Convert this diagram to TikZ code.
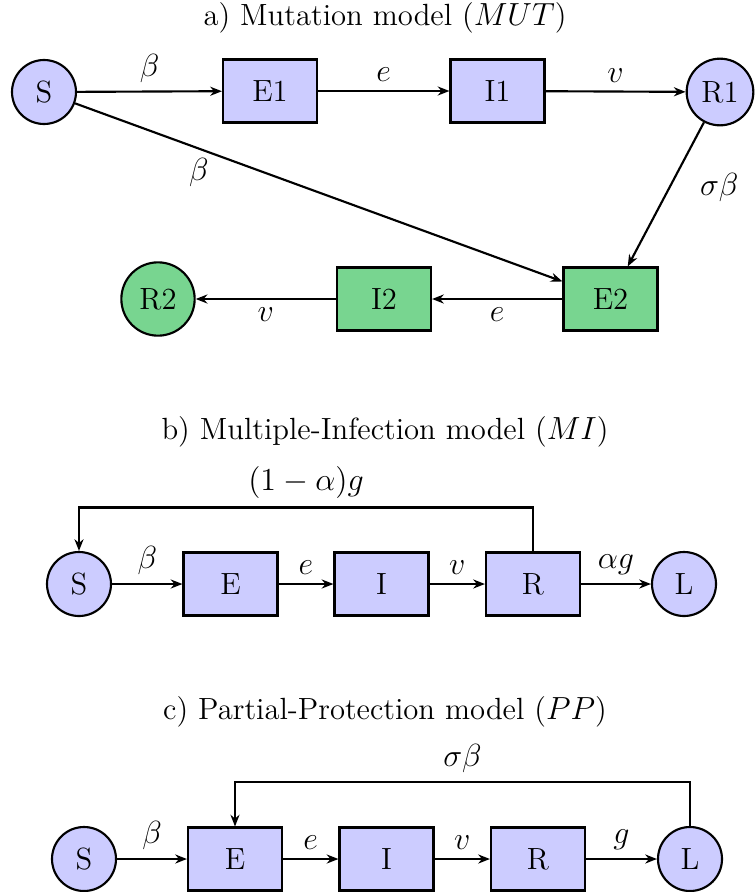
\documentclass[tikz,border=0pt]{standalone}
\usetikzlibrary{arrows.meta}
\definecolor{lav}{RGB}{204,204,255}
\definecolor{grn}{RGB}{120,213,144}
\begin{document}
\begin{tikzpicture}[x=0.375pt,y=-0.375pt,
  every node/.style={font=\fontsize{11.5}{14}\selectfont},
  circ/.style={circle,draw,line width=0.8pt,minimum size=24pt,inner sep=0pt},
  boxn/.style={rectangle,draw,line width=0.8pt,minimum width=35.25pt,minimum height=23.6pt,inner sep=0pt},
  arr/.style={line width=0.8pt,-{Stealth[length=4.4pt,width=3.4pt]}},
  lbl/.style={inner sep=3pt}]
\useasboundingbox (0,0) rectangle (756,892);
% ---- a) ----
\node (ta) at (385,18) {a) Mutation model ($MUT$)};
\node[circ,fill=lav] (S1) at (44,92) {S};
\node[boxn,fill=lav] (E1) at (270,91) {E1};
\node[boxn,fill=lav] (I1) at (497.5,91) {I1};
\node[circ,fill=lav,minimum size=25pt] (R1) at (720,92) {R1};
\node[boxn,fill=grn] (E2) at (610.5,299) {E2};
\node[boxn,fill=grn] (I2) at (384,299) {I2};
\node[circ,fill=grn,minimum size=27.5pt] (R2) at (158,299) {R2};
\draw[arr] (S1) -- node[above,lbl] {$\beta$} (E1);
\draw[arr] (E1) -- node[above,lbl] {$e$} (I1);
\draw[arr] (I1) -- node[above,lbl] {$v$} (R1);
\draw[arr] (S1) -- node[pos=0.26,below left,lbl,xshift=6pt] {$\beta$} (E2);
\draw[arr] (R1) -- node[pos=0.45,right,lbl,xshift=8pt] {$\sigma\beta$} (E2);
\draw[arr] (E2) -- node[below,lbl] {$e$} (I2);
\draw[arr] (I2) -- node[below,lbl] {$v$} (R2);
% ---- b) ----
\node (tb) at (385,432) {b) Multiple-Infection model ($MI$)};
\node[circ,fill=lav] (Sb) at (79,584) {S};
\node[boxn,fill=lav] (Eb) at (230.5,584) {E};
\node[boxn,fill=lav] (Ib) at (381.5,584) {I};
\node[boxn,fill=lav] (Rb) at (533,584) {R};
\node[circ,fill=lav] (Lb) at (684,584) {L};
\draw[arr] (Sb) -- node[above,lbl] {$\beta$} (Eb);
\draw[arr] (Eb) -- node[above,lbl] {$e$} (Ib);
\draw[arr] (Ib) -- node[above,lbl] {$v$} (Rb);
\draw[arr] (Rb) -- node[above,lbl] {$\alpha g$} (Lb);
\draw[arr] (Rb.north) -- ++(0,-44) -| node[pos=0.25,above,lbl] {$(1-\alpha)g$} (Sb.north);
% ---- c) ----
\node (tc) at (385,712) {c) Partial-Protection model ($PP$)};
\node[circ,fill=lav] (Sc) at (84,859) {S};
\node[boxn,fill=lav] (Ec) at (235,859) {E};
\node[boxn,fill=lav] (Ic) at (386.5,859) {I};
\node[boxn,fill=lav] (Rc) at (538,859) {R};
\node[circ,fill=lav] (Lc) at (690,859) {L};
\draw[arr] (Sc) -- node[above,lbl] {$\beta$} (Ec);
\draw[arr] (Ec) -- node[above,lbl] {$e$} (Ic);
\draw[arr] (Ic) -- node[above,lbl] {$v$} (Rc);
\draw[arr] (Rc) -- node[above,lbl] {$g$} (Lc);
\draw[arr] (Lc.north) -- ++(0,-44) -| node[pos=0.25,above,lbl] {$\sigma\beta$} (Ec.north);
\end{tikzpicture}
\end{document}
